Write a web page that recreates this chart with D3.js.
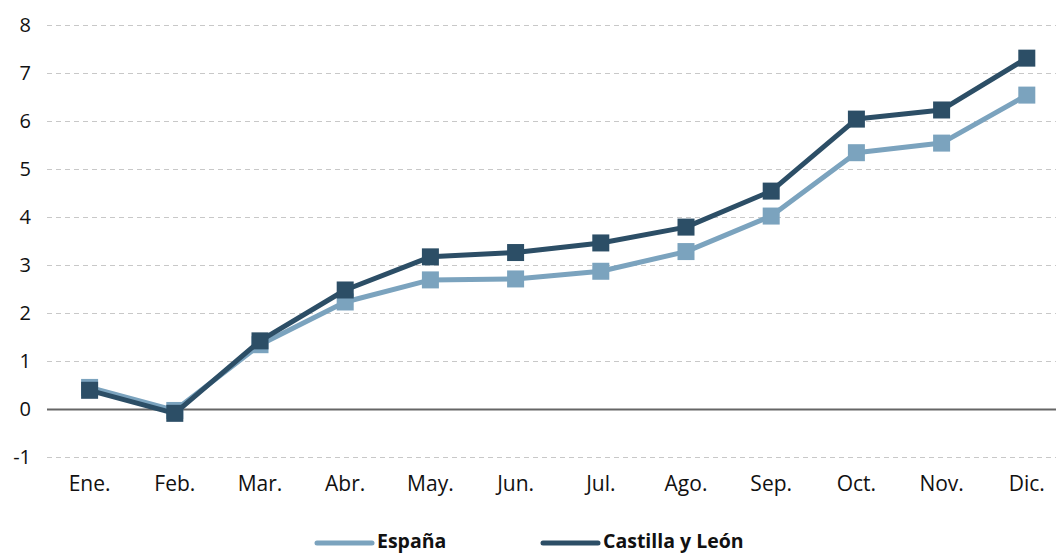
<!DOCTYPE html>
<html>
<head>
<meta charset="utf-8">
<script src="https://cdn.jsdelivr.net/npm/d3@7"></script>
<style>
  body { margin: 0; background: #fff; }
  text { font-family: "Open Sans", "Noto Sans", sans-serif; }
</style>
</head>
<body>
<div id="chart"></div>
<script>
// Chart data
const MONTHS = ['Ene.', 'Feb.', 'Mar.', 'Abr.', 'May.', 'Jun.', 'Jul.', 'Ago.', 'Sep.', 'Oct.', 'Nov.', 'Dic.'];
const ESPANA = [0.46, -0.02, 1.35, 2.24, 2.70, 2.72, 2.88, 3.29, 4.03, 5.35, 5.55, 6.55];
const CYL = [0.40, -0.08, 1.43, 2.49, 3.18, 3.27, 3.47, 3.80, 4.55, 6.05, 6.24, 7.32];
const Y_TICKS = [-1, 0, 1, 2, 3, 4, 5, 6, 7, 8];

const SERIES = [
    { name: 'España', values: ESPANA, color: '#7ba3be' },
    { name: 'Castilla y León', values: CYL, color: '#2c4e66' }
];

const width = 1056;
const height = 553;

const svg = d3.select('#chart')
    .append('svg')
    .attr('width', width)
    .attr('height', height);

// Scales
const x = d3.scaleBand()
    .domain(MONTHS)
    .range([47, 1069.4]);

const y = d3.scaleLinear()
    .domain([-1, 8])
    .range([457.5, 25.5]);

// Gridlines
svg.append('g')
    .selectAll('line')
    .data(Y_TICKS.filter(d => d !== 0))
    .join('line')
    .attr('x1', 47)
    .attr('x2', width)
    .attr('y1', d => y(d))
    .attr('y2', d => y(d))
    .attr('stroke', '#c8c8c8')
    .attr('stroke-width', 1)
    .attr('stroke-dasharray', '5,4');

// Y axis labels (plain hyphen for negatives, as in the source)
const yAxis = svg.append('g')
    .attr('transform', 'translate(31,0)')
    .call(d3.axisLeft(y).tickValues(Y_TICKS).tickSize(0).tickPadding(0).tickFormat(d => String(d)));
yAxis.select('.domain').remove();
yAxis.selectAll('text')
    .attr('font-size', '20px')
    .attr('fill', '#111')
    .style('font-family', '"Open Sans", "Noto Sans", sans-serif');

// Zero line
svg.append('line')
    .attr('x1', 47)
    .attr('x2', width)
    .attr('y1', y(0))
    .attr('y2', y(0))
    .attr('stroke', '#666')
    .attr('stroke-width', 2);

// X axis labels (baseline placed directly)
const xAxis = svg.append('g')
    .attr('transform', 'translate(0,491)')
    .call(d3.axisBottom(x).tickSize(0).tickPadding(0));
xAxis.select('.domain').remove();
xAxis.selectAll('text')
    .attr('font-size', '21px')
    .attr('fill', '#111')
    .attr('dy', '0')
    .style('font-family', '"Open Sans", "Noto Sans", sans-serif');

// Lines and markers
const line = d3.line()
    .x((d, i) => x(MONTHS[i]) + x.bandwidth() / 2)
    .y(d => y(d));

const markerSize = 17;

SERIES.forEach(s => {
    svg.append('path')
        .datum(s.values)
        .attr('fill', 'none')
        .attr('stroke', s.color)
        .attr('stroke-width', 5)
        .attr('stroke-linejoin', 'round')
        .attr('d', line);

    svg.append('g')
        .selectAll('rect')
        .data(s.values)
        .join('rect')
        .attr('x', (d, i) => x(MONTHS[i]) + x.bandwidth() / 2 - markerSize / 2)
        .attr('y', d => y(d) - markerSize / 2)
        .attr('width', markerSize)
        .attr('height', markerSize)
        .attr('fill', s.color);
});

// Legend (sits near the bottom edge, as in the source)
const legendX = [317, 543];
const legend = svg.append('g')
    .selectAll('g')
    .data(SERIES)
    .join('g')
    .attr('transform', (d, i) => `translate(${legendX[i]}, 543)`);

legend.append('line')
    .attr('x1', 0)
    .attr('x2', 55)
    .attr('stroke', d => d.color)
    .attr('stroke-width', 5)
    .attr('stroke-linecap', 'round');

legend.append('text')
    .attr('x', 60)
    .attr('y', 5)
    .attr('font-size', '19.5px')
    .attr('font-weight', 'bold')
    .attr('fill', '#111')
    .text(d => d.name);
</script>
</body>
</html>
